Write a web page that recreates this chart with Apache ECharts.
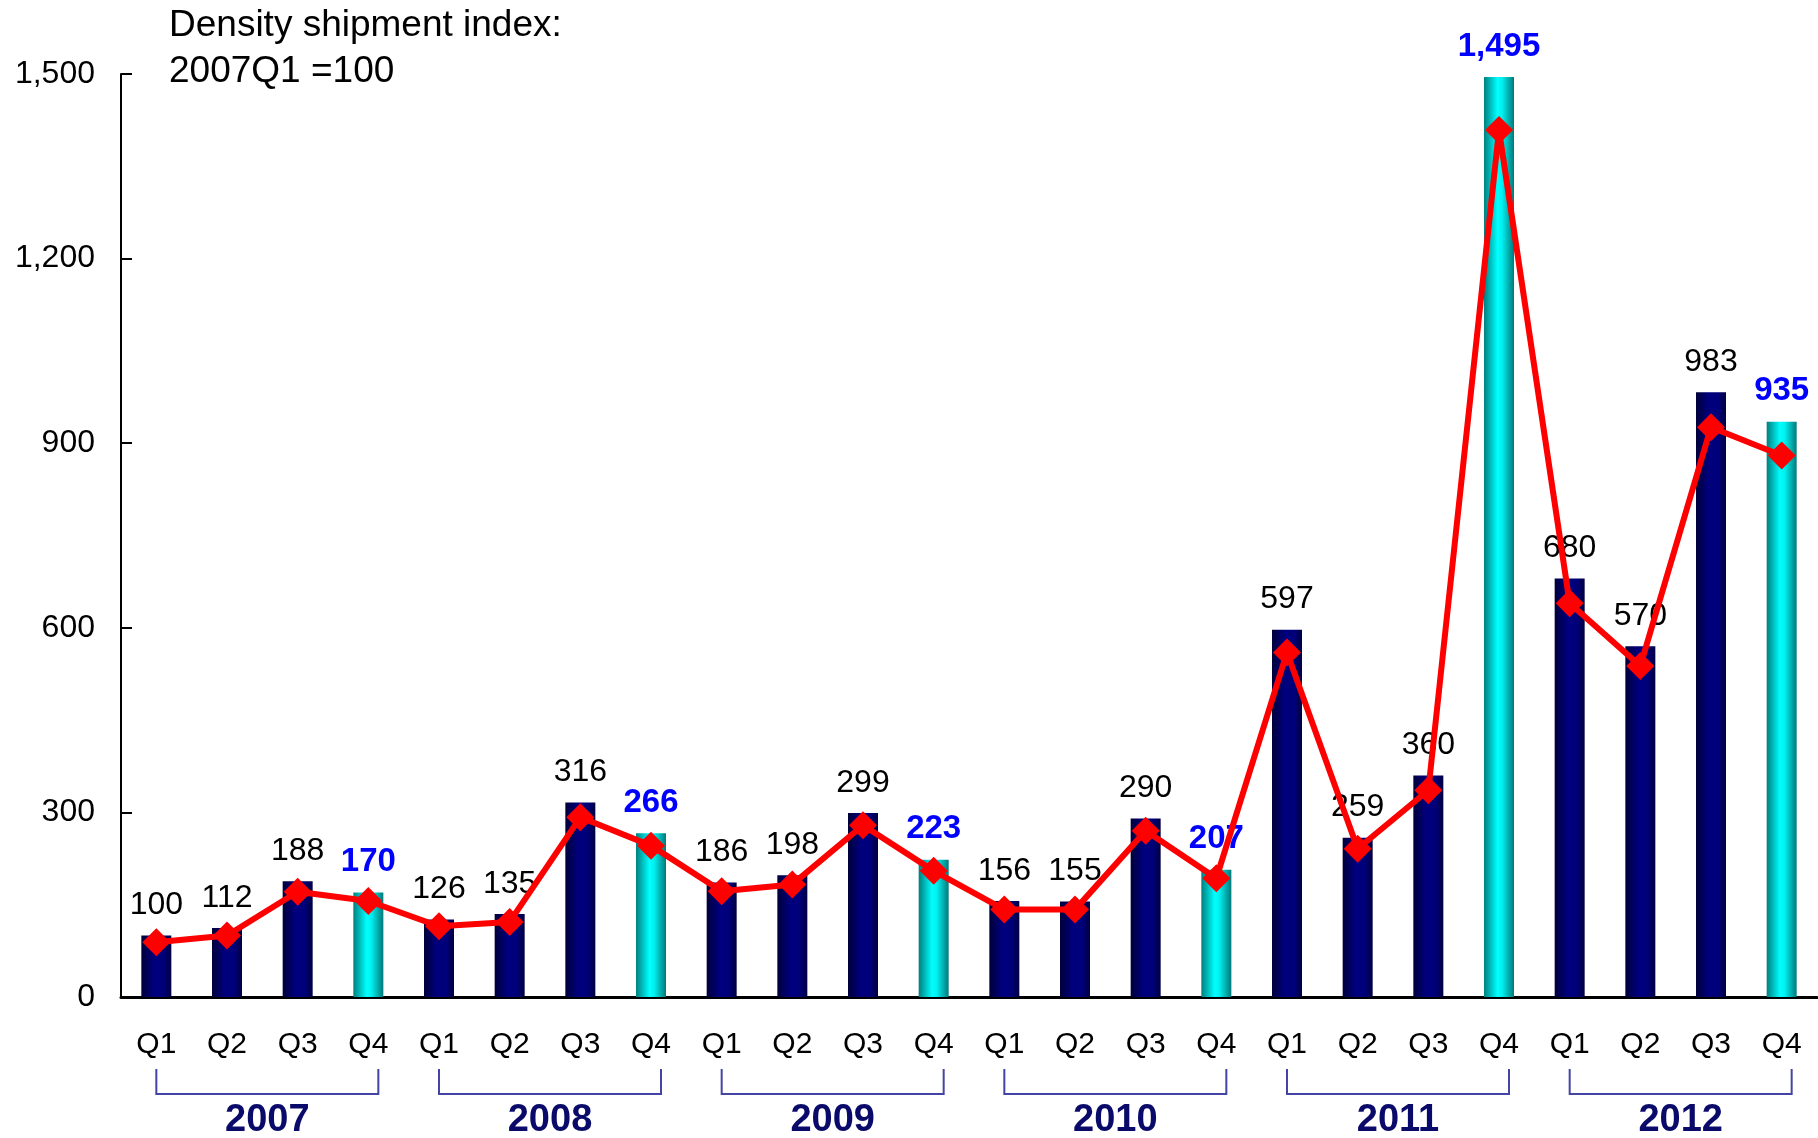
<!DOCTYPE html>
<html>
<head>
<meta charset="utf-8">
<title>Density shipment index</title>
<script src="https://cdn.jsdelivr.net/npm/echarts@6/dist/echarts.min.js"></script>
<style>
  html, body { margin: 0; padding: 0; background: #fff; }
  #chart { width: 1818px; height: 1138px; }
</style>
</head>
<body>
<div id="chart"></div>
<script>
  // quarters on the x axis
  var quarters = ['Q1','Q2','Q3','Q4','Q1','Q2','Q3','Q4','Q1','Q2','Q3','Q4',
                  'Q1','Q2','Q3','Q4','Q1','Q2','Q3','Q4','Q1','Q2','Q3','Q4'];
  // bar values (labelled)
  var barValues = [100,112,188,170,126,135,316,266,186,198,299,223,
                   156,155,290,207,597,259,360,1495,680,570,983,935];
  // red line (no labels)
  var lineValues = [89,100,171,156,115,122,292,246,172,183,279,205,
                    142,142,270,193,560,241,336,1409,640,538,926,880];
  // year groups: first and last quarter index
  var years = ['2007','2008','2009','2010','2011','2012'];
  var yearRanges = [[0,3],[4,7],[8,11],[12,15],[16,19],[20,23]];
  var yTicks = [0,300,600,900,1200,1500];

  var FONT = '"Liberation Sans", Arial, Helvetica, sans-serif';

  var navyFill = new echarts.graphic.LinearGradient(0, 0, 1, 0, [
    {offset: 0, color: '#00003a'},
    {offset: 0.45, color: '#000080'},
    {offset: 0.75, color: '#000078'},
    {offset: 1, color: '#000040'}
  ]);
  var cyanFill = new echarts.graphic.LinearGradient(0, 0, 1, 0, [
    {offset: 0, color: '#007f7f'},
    {offset: 0.45, color: '#00ffff'},
    {offset: 0.6, color: '#00f0f0'},
    {offset: 1, color: '#007878'}
  ]);

  function fmt(v){
    return String(v).replace(/\B(?=(\d{3})+(?!\d))/g, ',');
  }

  // Q4 bars are cyan with bold blue labels
  var barData = barValues.map(function(v, i){
    var q4 = i % 4 === 3;
    return {
      value: v,
      itemStyle: { color: q4 ? cyanFill : navyFill },
      label: q4 ? { color: '#0000ff', fontWeight: 'bold', fontSize: 33 } : { color: '#000' }
    };
  });

  var chart = echarts.init(document.getElementById('chart'));
  var option = {
    animation: false,
    title: {
      text: 'Density shipment index:\n2007Q1 =100',
      left: 169,
      top: 3,
      padding: 0,
      textStyle: { fontFamily: FONT, fontSize: 37, fontWeight: 'normal', color: '#000', lineHeight: 46 }
    },
    grid: { left: 121, right: 1, top: 74, bottom: 141, containLabel: false },
    xAxis: [
      {
        type: 'category',
        data: quarters,
        axisLine: { lineStyle: { color: '#000', width: 3 } },
        axisTick: { alignWithLabel: true, length: 9, lineStyle: { color: '#000', width: 2 } },
        axisLabel: { fontFamily: FONT, fontSize: 30, color: '#000', margin: 33, interval: 0 }
      },
      {
        // boundary ticks pointing up into the plot
        type: 'category',
        data: quarters,
        position: 'bottom',
        axisLine: { show: false },
        axisTick: { inside: true, length: 10, lineStyle: { color: '#000', width: 2 } },
        axisLabel: { show: false }
      }
    ],
    yAxis: {
      type: 'value',
      min: yTicks[0],
      max: yTicks[yTicks.length - 1],
      interval: 300,
      axisLine: { show: true, lineStyle: { color: '#000', width: 2 } },
      axisTick: { show: true, inside: true, length: 11, lineStyle: { color: '#000', width: 2 } },
      splitLine: { show: false },
      axisLabel: { fontFamily: FONT, fontSize: 32, color: '#000', margin: 26, formatter: fmt }
    },
    series: [
      {
        type: 'bar',
        data: barData,
        barWidth: 30,
        z: 2,
        label: {
          show: true,
          position: 'top',
          distance: 14,
          fontFamily: FONT,
          fontSize: 32,
          formatter: function(p){ return fmt(p.value); }
        }
      },
      {
        type: 'line',
        data: lineValues,
        z: 5,
        symbol: 'diamond',
        symbolSize: 28,
        lineStyle: { color: '#ff0000', width: 6 },
        itemStyle: { color: '#ff0000' }
      },
      {
        // year brackets under the quarter labels
        type: 'custom',
        data: yearRanges,
        clip: false,
        z: 3,
        silent: true,
        renderItem: function(params, api){
          var a = api.coord([api.value(0), 0]);
          var b = api.coord([api.value(1), 0]);
          var x1 = a[0], x2 = b[0] + 10, y0 = a[1];
          var top = y0 + 72, bot = y0 + 97;
          return {
            type: 'group',
            children: [
              {
                type: 'polyline',
                shape: { points: [[x1, top], [x1, bot], [x2, bot], [x2, top]] },
                style: { stroke: '#4444a4', lineWidth: 2, fill: null }
              },
              {
                type: 'text',
                style: {
                  text: years[params.dataIndex],
                  x: (x1 + x2) / 2,
                  y: y0 + 124,
                  align: 'center',
                  verticalAlign: 'middle',
                  fontFamily: FONT,
                  fontSize: 38,
                  fontWeight: 'bold',
                  fill: '#0a0a6a'
                }
              }
            ]
          };
        }
      }
    ]
  };

  option && chart.setOption(option);
</script>
</body>
</html>
